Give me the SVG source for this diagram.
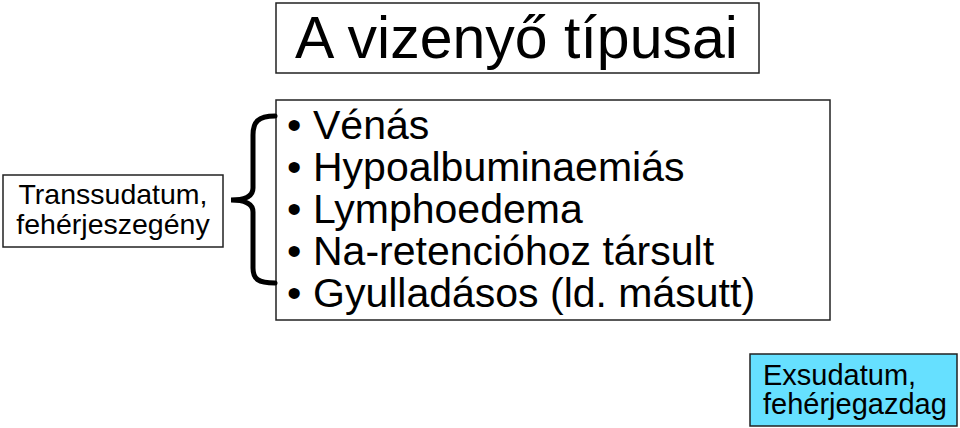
<svg xmlns="http://www.w3.org/2000/svg" width="960" height="428" viewBox="0 0 960 428">
<style>
.box{fill:#fff;stroke:#222;stroke-width:1.5}
.t{font-family:"Liberation Sans",Arial,sans-serif;fill:#000}
</style>
<rect width="960" height="428" fill="#fff"/>
<g id="title">
<rect class="box" x="276" y="3" width="483" height="70"/>
<text class="t" x="516.5" y="58" font-size="59" text-anchor="middle">A vizenyő típusai</text>
</g>
<g id="transsudatum">
<rect class="box" x="3" y="175" width="220" height="72"/>
<text class="t" x="113" y="204" font-size="28.5" text-anchor="middle">Transsudatum,</text>
<text class="t" x="113" y="234" font-size="28.5" text-anchor="middle">fehérjeszegény</text>
</g>
<g id="types">
<rect class="box" x="276" y="100" width="554" height="220"/>
<g class="t" font-size="41">
<text x="287" y="139">•</text><text x="313" y="139">Vénás</text>
<text x="287" y="181">•</text><text x="313" y="181">Hypoalbuminaemiás</text>
<text x="287" y="223">•</text><text x="313" y="223">Lymphoedema</text>
<text x="287" y="265">•</text><text x="313" y="265">Na-retencióhoz társult</text>
<text x="287" y="307">•</text><text x="313" y="307">Gyulladásos (ld. másutt)</text>
</g>
</g>
<g id="exsudatum">
<rect x="750" y="354" width="207" height="72" fill="#66E0FF" stroke="#222" stroke-width="1.5"/>
<text class="t" x="763" y="385" font-size="29">Exsudatum,</text>
<text class="t" x="763" y="414" font-size="29">fehérjegazdag</text>
</g>
<g id="connectors">
<path d="M275,116 C258,116 253,122 253,135 L253,188 C253,196 245,200 231,200 C245,200 253,204 253,212 L253,268 C253,279 258,283 275,283" fill="none" stroke="#000" stroke-width="5" stroke-linecap="round"/>
</g>
</svg>
